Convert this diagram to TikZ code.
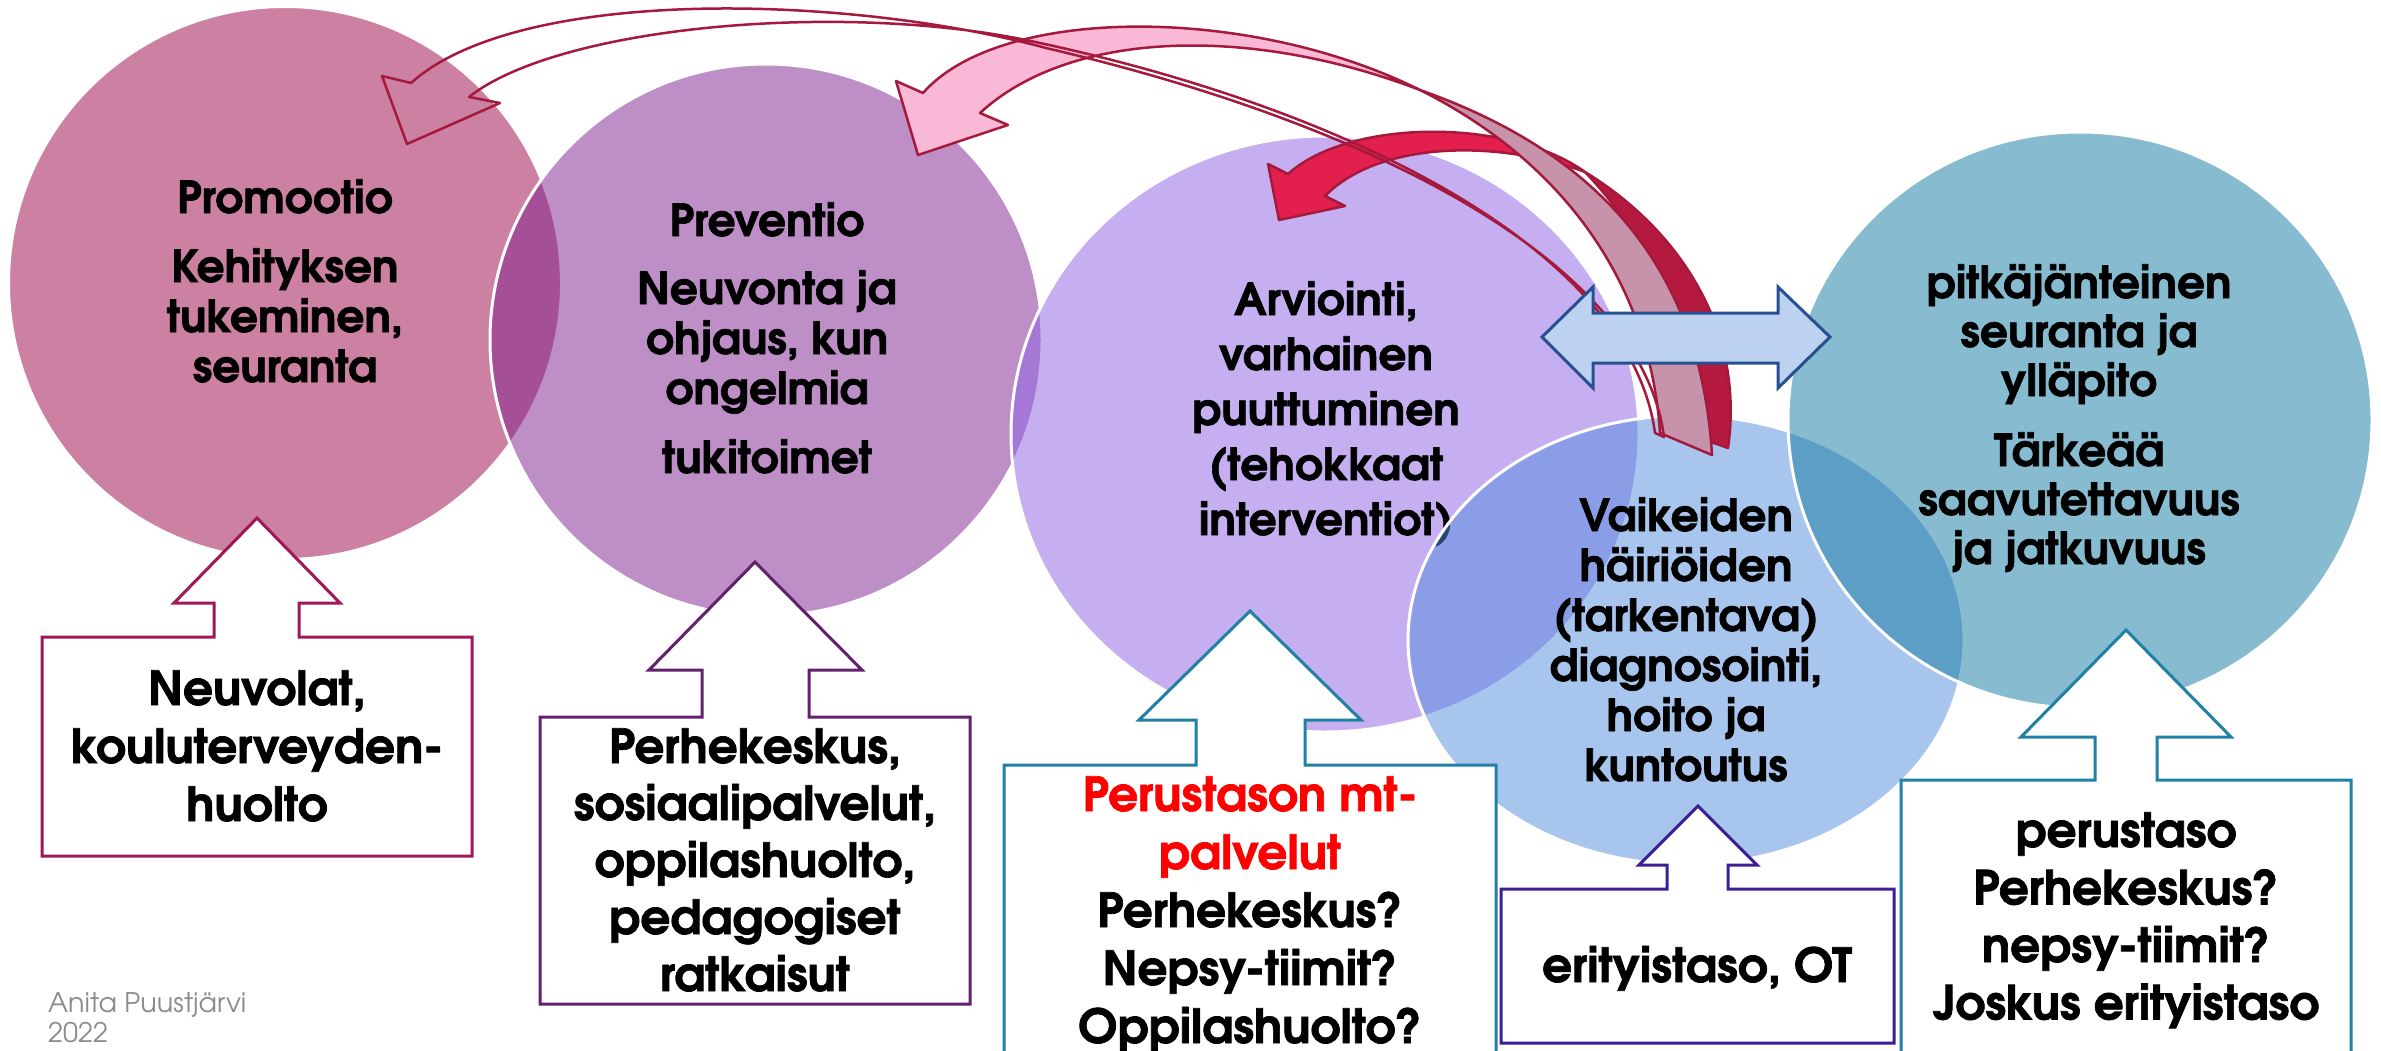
\documentclass[tikz,border=0pt]{standalone}
\usepackage{fontspec}
\setmainfont{texgyreadventor}[Extension=.otf,UprightFont=*-regular,BoldFont=*-bold,ItalicFont=*-italic,BoldItalicFont=*-bolditalic,BoldFeatures={FakeBold=1.5}]
\usetikzlibrary{shapes.geometric}
\definecolor{cA}{RGB}{157,5,71}
\definecolor{cB}{RGB}{127,31,145}
\definecolor{cC}{RGB}{141,97,229}
\definecolor{cD}{RGB}{83,141,221}
\definecolor{cE}{RGB}{17,121,161}
\definecolor{arrc}{RGB}{165,25,60}
\definecolor{pinkf}{RGB}{249,184,214}
\definecolor{pinkd}{RGB}{199,147,171}
\definecolor{crim}{RGB}{227,31,78}
\definecolor{crimd}{RGB}{182,25,62}
\definecolor{dblf}{RGB}{189,210,240}
\definecolor{dblc}{RGB}{40,80,145}
\definecolor{bxa}{RGB}{160,24,88}
\definecolor{bxb}{RGB}{100,32,110}
\definecolor{bxc}{RGB}{33,128,166}
\definecolor{bxd}{RGB}{60,30,150}
\definecolor{sigc}{RGB}{140,140,140}
\newcommand\mylinesc[1]{\vtop{\lineskiplimit=-1000pt\lineskip=0pt\halign{\hfil##\hfil\cr#1\crcr}}}
\newcommand\mylinesl[1]{\vtop{\lineskiplimit=-1000pt\lineskip=0pt\halign{##\hfil\cr#1\crcr}}}
\begin{document}
\begin{tikzpicture}[x=1pt,y=-1pt,
  circ/.style={ellipse, inner sep=0pt, fill opacity=0.5, draw=white, draw opacity=1, line width=3pt},
  ctext/.style={anchor=base, inner sep=0pt, font=\fontsize{44}{50}\selectfont\bfseries},
  btext/.style={anchor=base, inner sep=0pt, font=\fontsize{47}{58}\selectfont\bfseries},
  boxup/.style={fill=white, line width=3pt, line join=miter},
  arrline/.style={draw=arrc, line width=2.5pt, line join=round},
  dblarrow/.style={draw=dblc, fill=dblf, line width=3pt, line join=miter}]
\fill[white] (0,0) rectangle (2381,1050);
\useasboundingbox (0,0) rectangle (2381,1050);
% circles with their texts
\node[circ, fill=cA, minimum width=553pt, minimum height=553pt] (c1) at (285,283) {};
\node[ctext] (t1) at (285,213) {\mylinesc{Promootio\cr\noalign{\vskip19pt}Kehityksen\cr tukeminen,\cr seuranta}};
\node[circ, fill=cB, minimum width=552pt, minimum height=552pt] (c2) at (766,340) {};
\node[ctext] (t2) at (767,236) {\mylinesc{Preventio\cr\noalign{\vskip18pt}Neuvonta ja\cr ohjaus, kun\cr ongelmia\cr\noalign{\vskip19pt}tukitoimet}};
\node[circ, fill=cC, minimum width=628pt, minimum height=596pt] (c3) at (1325,434) {};
\node[ctext, font=\fontsize{44}{55}\selectfont\bfseries] (t3) at (1326,315) {\mylinesc{Arviointi,\cr varhainen\cr puuttuminen\cr (tehokkaat\cr interventiot)}};
\node[circ, fill=cD, minimum width=556pt, minimum height=449pt] (c4) at (1686,640) {};
\node[ctext] (t4) at (1686,531) {\mylinesc{Vaikeiden\cr häiriöiden\cr (tarkentava)\cr diagnosointi,\cr hoito ja\cr kuntoutus}};
\node[circ, fill=cE, minimum width=584pt, minimum height=576pt] (c5) at (2080,420) {};
\node[ctext, font=\fontsize{44}{49}\selectfont\bfseries] (t5) at (2079,298) {\mylinesc{pitkäjänteinen\cr seuranta ja\cr ylläpito\cr\noalign{\vskip21pt}Tärkeää\cr saavutettavuus\cr ja jatkuvuus}};
% curved arrow C (crimson)
\path[arrline, fill=crim] (1279,220) -- (1345,206) -- (1325,196) .. controls (1380,140) and (1500,140) .. (1585,172) .. controls (1510,118) and (1350,118) .. (1288,174) -- (1268,164) -- cycle;
\path[arrline, fill=crimd] (1585,172) .. controls (1680,230) and (1745,330) .. (1728,448) -- (1683,432) .. controls (1690,330) and (1650,240) .. (1585,172) -- cycle;
% curved arrow B (pink)
\path[arrline, fill=pinkf] (918,155) -- (1008,125) -- (980,113) .. controls (1070,30) and (1250,25) .. (1420,90) .. controls (1250,5) and (1000,5) .. (923,93) -- (896,81) -- cycle;
\path[arrline, fill=pinkd] (1420,90) .. controls (1590,150) and (1700,260) .. (1712,455) -- (1660,433) .. controls (1650,280) and (1560,160) .. (1420,90) -- cycle;
% curved arrow A (outline)
\path[arrline] (407,144) -- (500,103) -- (469,97) .. controls (560,25) and (850,0) .. (1040,43) .. controls (1350,110) and (1630,250) .. (1655,433) -- (1664,437) .. controls (1640,255) and (1355,120) .. (1046,48) .. controls (850,-5) and (520,-15) .. (411,83) -- (382,76) -- cycle;
% double arrow
\path[dblarrow] (1542,337) -- (1593,287) -- (1593,313) -- (1778,313) -- (1778,287) -- (1830,337) -- (1778,388) -- (1778,363) -- (1593,363) -- (1593,388) -- cycle;
% bottom callout boxes
\path[boxup, draw=bxa] (42,637) -- (214,637) -- (214,603) -- (174,603) -- (257,518) -- (340,603) -- (299,603) -- (299,637) -- (472,637) -- (472,856) -- (42,856) -- cycle;
\path[boxup, draw=bxb] (540,717) -- (702,717) -- (702,670) -- (649,670) -- (755,562) -- (862,670) -- (809,670) -- (809,717) -- (970,717) -- (970,1004) -- (540,1004) -- cycle;
\path[boxup, draw=bxc] (1004,765) -- (1196,765) -- (1196,720) -- (1139,720) -- (1250,611) -- (1361,720) -- (1305,720) -- (1305,765) -- (1496,765) -- (1496,1065) -- (1004,1065) -- cycle;
\path[boxup, draw=bxd] (1501,889) -- (1667,889) -- (1667,865) -- (1639,865) -- (1698,806) -- (1757,865) -- (1728,865) -- (1728,889) -- (1894,889) -- (1894,1043) -- (1501,1043) -- cycle;
\path[boxup, draw=bxc] (1901,780) -- (2095,780) -- (2095,737) -- (2021,737) -- (2126,630) -- (2231,737) -- (2157,737) -- (2157,780) -- (2351,780) -- (2351,1065) -- (1901,1065) -- cycle;
\node[btext] (b1) at (257,705) {\mylinesc{Neuvolat,\cr kouluterveyden-\cr huolto}};
\node[btext, font=\fontsize{47}{57}\selectfont\bfseries] (b2) at (755,763) {\mylinesc{Perhekeskus,\cr sosiaalipalvelut,\cr oppilashuolto,\cr pedagogiset\cr ratkaisut}};
\node[btext] (b3) at (1250,811) {\mylinesc{\textcolor{red}{Perustason mt-}\cr \textcolor{red}{palvelut}\cr Perhekeskus?\cr Nepsy-tiimit?\cr Oppilashuolto?}};
\node[btext] (b4) at (1697,982) {erityistaso, OT};
\node[btext, font=\fontsize{47}{57.5}\selectfont\bfseries] (b5) at (2126,847) {\mylinesc{perustaso\cr Perhekeskus?\cr nepsy-tiimit?\cr Joskus erityistaso}};
\node[anchor=base west, inner sep=0pt, text=sigc, font=\fontsize{27}{30}\selectfont] (sig) at (48,1012) {\mylinesl{Anita Puustjärvi\cr 2022}};
\end{tikzpicture}
\end{document}
